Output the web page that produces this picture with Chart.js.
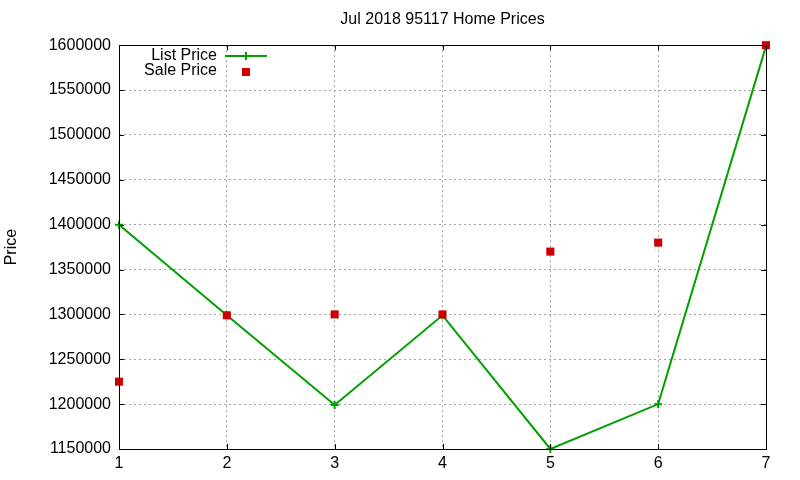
<!DOCTYPE html>
<html>
<head>
<meta charset="utf-8">
<script src="https://cdn.jsdelivr.net/npm/chart.js@4"></script>
<style>
  html, body { margin: 0; padding: 0; background: #fff; }
  #wrap { width: 800px; height: 480px; }
</style>
</head>
<body>
<div id="wrap"><canvas id="myChart" width="800" height="480"></canvas></div>
<script>
/* Home prices - data */

const xValues = [1, 2, 3, 4, 5, 6, 7];
const listPrice = [1400000, 1299000, 1199000, 1299000, 1150000, 1200000, 1599000];
const salePrice = [1225000, 1299000, 1300000, 1300000, 1370000, 1380000, 1600000];
const titleText = 'Jul 2018 95117 Home Prices';
const legendLabels = ['List Price', 'Sale Price'];

const green = '#00a000';
const red = '#cc0000';
const fontName = '"Liberation Sans", Arial, sans-serif';

function toPoints(values) {
  return xValues.map(function(x, i) {
    return { x: x, y: values[i] };
  });
}

/* frame, inward ticks and legend, gnuplot style */
const framePlugin = {
  id: 'frame',
  afterDraw: function(chart) {
    const ctx = chart.ctx;
    const area = chart.chartArea;
    const xs = chart.scales.x;
    const ys = chart.scales.y;
    const tl = 5;
    ctx.save();
    ctx.strokeStyle = '#000';
    ctx.lineWidth = 1;
    ctx.beginPath();
    ys.ticks.forEach(function(t) {
      let py = Math.round(ys.getPixelForValue(t.value)) + 0.5;
      ctx.moveTo(area.left, py); ctx.lineTo(area.left + tl, py);
      ctx.moveTo(area.right, py); ctx.lineTo(area.right - tl, py);
    });
    xs.ticks.forEach(function(t) {
      let px = Math.round(xs.getPixelForValue(t.value)) + 0.5;
      ctx.moveTo(px, area.bottom); ctx.lineTo(px, area.bottom - tl);
      ctx.moveTo(px, area.top); ctx.lineTo(px, area.top + tl);
    });
    ctx.stroke();
    ctx.strokeRect(Math.round(area.left) + 0.5, Math.round(area.top) + 0.5,
      Math.round(area.right - area.left), Math.round(area.bottom - area.top));

    // legend
    ctx.font = '16px ' + fontName;
    ctx.fillStyle = '#000';
    ctx.textAlign = 'right';
    ctx.textBaseline = 'middle';
    ctx.fillText(legendLabels[0], 217, 56);
    ctx.fillText(legendLabels[1], 217, 71);
    ctx.strokeStyle = green;
    ctx.lineWidth = 2;
    ctx.beginPath();
    ctx.moveTo(225, 56); ctx.lineTo(267, 56);
    ctx.moveTo(246, 52); ctx.lineTo(246, 60);
    ctx.stroke();
    ctx.fillStyle = red;
    ctx.fillRect(242, 68, 8, 8);
    ctx.restore();
  }
};

let ctx = document.getElementById('myChart').getContext('2d');
// eslint-disable-next-line
let chart = new Chart(ctx, {
  type: 'scatter',
  data: {
    datasets: [{
      label: legendLabels[0],
      data: toPoints(listPrice),
      showLine: true,
      order: 1,
      borderColor: green,
      backgroundColor: green,
      borderWidth: 2,
      pointStyle: 'cross',
      pointRadius: 4,
      pointBorderWidth: 2,
      clip: false
    },
    {
      label: legendLabels[1],
      data: toPoints(salePrice),
      showLine: false,
      order: 0,
      borderColor: red,
      backgroundColor: red,
      pointStyle: 'rect',
      pointRadius: 5.7,
      pointBorderWidth: 0,
      clip: false
    }]
  },
  plugins: [framePlugin],
  options: {
    responsive: false,
    animation: false,
    layout: {
      padding: { left: 0, right: 34, top: 0, bottom: 0 }
    },
    plugins: {
      legend: { display: false },
      tooltip: { enabled: false },
      title: {
        display: true,
        text: titleText,
        fullSize: false,
        color: '#000',
        font: { family: fontName, size: 16, weight: 'normal' },
        padding: { top: 10, bottom: 16 }
      }
    },
    scales: {
      x: {
        type: 'linear',
        min: 1,
        max: 7,
        afterFit: function(scale) { scale.height = 31; },
        ticks: {
          stepSize: 1,
          color: '#000',
          padding: 5,
          font: { family: fontName, size: 16 }
        },
        grid: {
          color: '#a0a0a0',
          drawTicks: false
        },
        border: { display: false, dash: [2, 3] }
      },
      y: {
        type: 'linear',
        min: 1150000,
        max: 1600000,
        afterFit: function(scale) { scale.width = 119; },
        title: {
          display: true,
          text: 'Price',
          color: '#000',
          font: { family: fontName, size: 16 },
          padding: { top: 2, bottom: 0 }
        },
        ticks: {
          stepSize: 50000,
          color: '#000',
          padding: 8,
          font: { family: fontName, size: 16 },
          callback: function(v) { return String(v); }
        },
        grid: {
          color: '#a0a0a0',
          drawTicks: false
        },
        border: { display: false, dash: [2, 3] }
      }
    }
  }
});
</script>
</body>
</html>
